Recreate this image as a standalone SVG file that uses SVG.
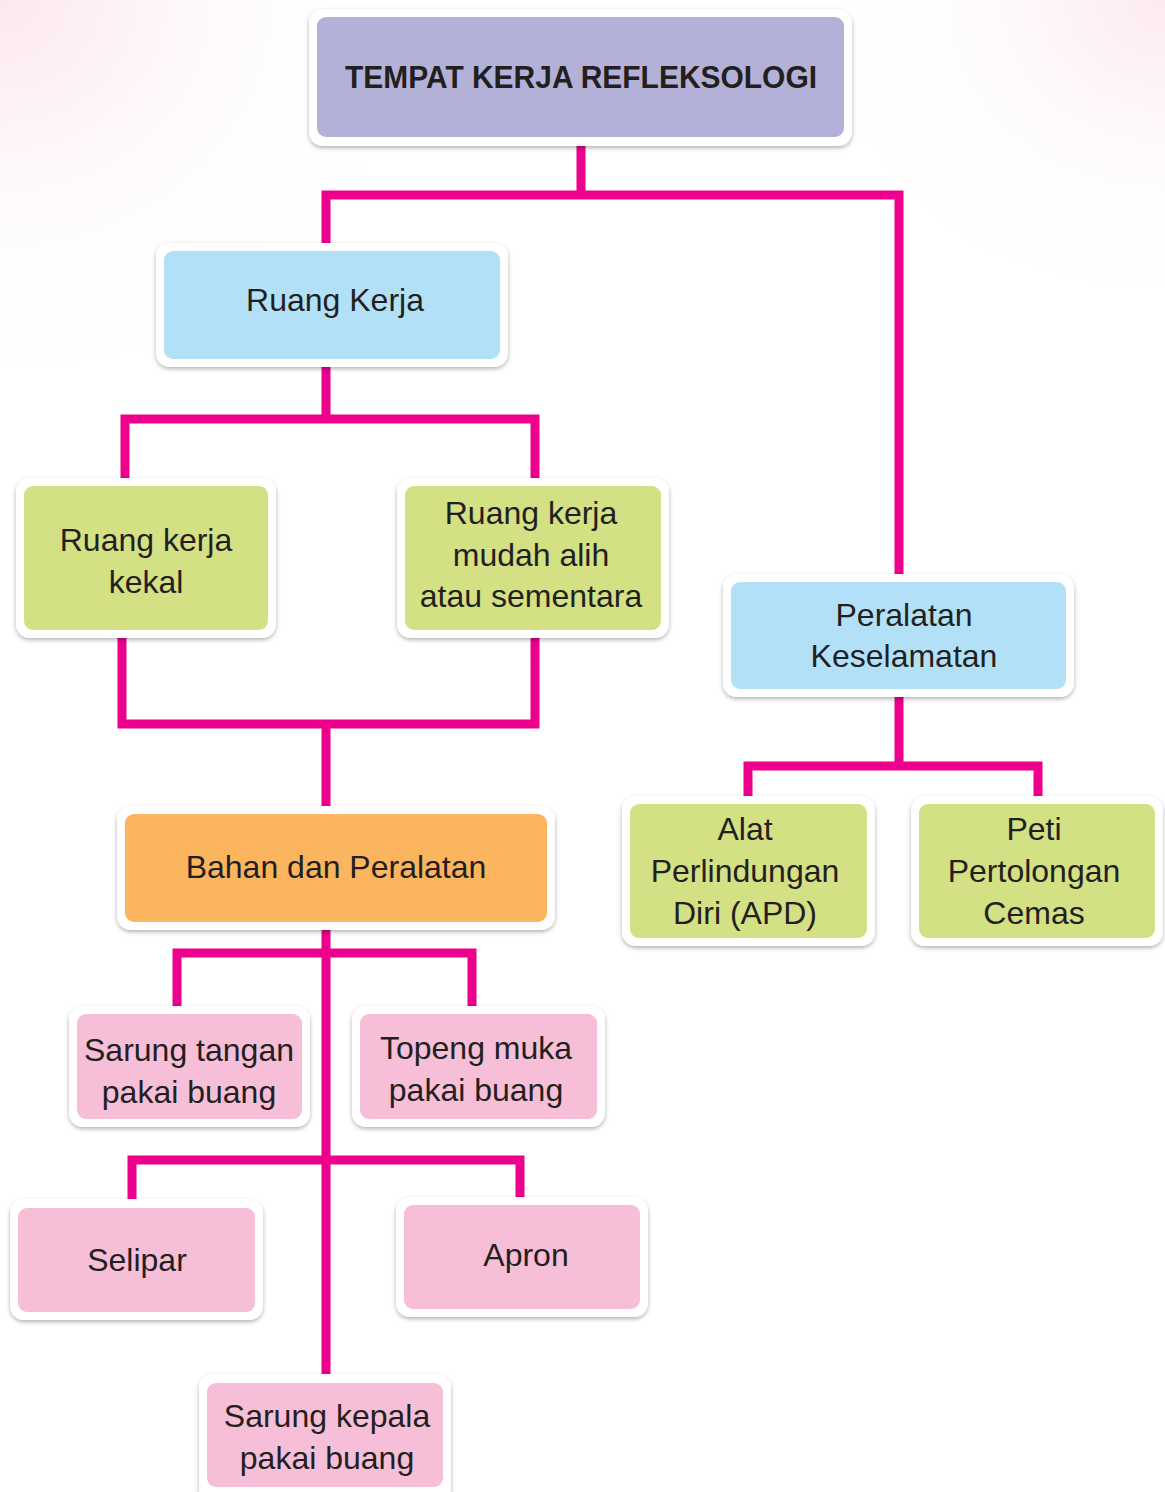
<svg xmlns="http://www.w3.org/2000/svg" width="1165" height="1492" viewBox="0 0 1165 1492">
<defs>
<radialGradient id="bgTL" cx="0" cy="0" r="1" gradientUnits="objectBoundingBox">
<stop offset="0" stop-color="#FCE4EC" stop-opacity="0.9"/>
<stop offset="1" stop-color="#FFFFFF" stop-opacity="0"/>
</radialGradient>
<radialGradient id="bgTR" cx="1" cy="0" r="1" gradientUnits="objectBoundingBox">
<stop offset="0" stop-color="#FCE4EC" stop-opacity="0.8"/>
<stop offset="1" stop-color="#FFFFFF" stop-opacity="0"/>
</radialGradient>
<filter id="sh" x="-10%" y="-10%" width="120%" height="130%">
<feDropShadow dx="0" dy="2" stdDeviation="2" flood-color="#000" flood-opacity="0.3"/>
</filter>
</defs>
<style>
.outer{fill:#FFFFFF;filter:url(#sh)}
.purple{fill:#B3B1D8}
.blue{fill:#B2E1F7}
.green{fill:#D3E083}
.orange{fill:#FBB55E}
.pink{fill:#F6BED7}
.t{font-family:"Liberation Sans",Arial,sans-serif;font-size:32px;fill:#231F20;text-anchor:middle}
.title{font-family:"Liberation Sans",Arial,sans-serif;font-size:32px;font-weight:bold;fill:#231F20;text-anchor:middle}
.c{fill:none;stroke:#EC008C;stroke-width:9;stroke-linecap:butt;stroke-linejoin:miter}
</style>
<rect width="1165" height="1492" fill="#FFFFFF"/>
<rect x="0" y="0" width="420" height="380" fill="url(#bgTL)"/>
<rect x="820" y="0" width="345" height="300" fill="url(#bgTR)"/>

<g id="connectors">
<path class="c" d="M581 146 V195 M326 243 V195 H899 V575"/>
<path class="c" d="M326 367 V419 M125 479 V419 H535 V479"/>
<path class="c" d="M122 638 V724 H535 V638 M326 724 V806"/>
<path class="c" d="M326 930 V1374 M177 1007 V953 H472 V1007"/>
<path class="c" d="M132 1200 V1160 H520 V1197"/>
<path class="c" d="M899 697 V766 M748 797 V766 H1038 V797"/>
</g>

<g id="n-tempat">
<rect class="outer" x="309" y="9" width="543" height="137" rx="14"/>
<rect class="purple" x="317" y="17" width="527" height="120" rx="9"/>
<text class="title" x="581" y="88" textLength="472" lengthAdjust="spacingAndGlyphs">TEMPAT KERJA REFLEKSOLOGI</text>
</g>

<g id="n-ruang-kerja">
<rect class="outer" x="156" y="243" width="352" height="124" rx="14"/>
<rect class="blue" x="164" y="251" width="336" height="108" rx="9"/>
<text class="t" x="335" y="311">Ruang Kerja</text>
</g>

<g id="n-kekal">
<rect class="outer" x="16" y="478" width="260" height="160" rx="14"/>
<rect class="green" x="24" y="486" width="244" height="144" rx="9"/>
<text class="t" x="146" y="551">Ruang kerja</text>
<text class="t" x="146" y="593">kekal</text>
</g>

<g id="n-mudah-alih">
<rect class="outer" x="397" y="478" width="272" height="160" rx="14"/>
<rect class="green" x="405" y="486" width="256" height="144" rx="9"/>
<text class="t" x="531" y="524">Ruang kerja</text>
<text class="t" x="531" y="566">mudah alih</text>
<text class="t" x="531" y="607">atau sementara</text>
</g>

<g id="n-peralatan-keselamatan">
<rect class="outer" x="723" y="574" width="351" height="123" rx="14"/>
<rect class="blue" x="731" y="582" width="335" height="107" rx="9"/>
<text class="t" x="904" y="626">Peralatan</text>
<text class="t" x="904" y="667">Keselamatan</text>
</g>

<g id="n-apd">
<rect class="outer" x="622" y="796" width="253" height="150" rx="14"/>
<rect class="green" x="630" y="804" width="237" height="134" rx="9"/>
<text class="t" x="745" y="840">Alat</text>
<text class="t" x="745" y="882">Perlindungan</text>
<text class="t" x="745" y="924">Diri (APD)</text>
</g>

<g id="n-peti">
<rect class="outer" x="911" y="796" width="252" height="150" rx="14"/>
<rect class="green" x="919" y="804" width="236" height="134" rx="9"/>
<text class="t" x="1034" y="840">Peti</text>
<text class="t" x="1034" y="882">Pertolongan</text>
<text class="t" x="1034" y="924">Cemas</text>
</g>

<g id="n-bahan">
<rect class="outer" x="117" y="806" width="438" height="124" rx="14"/>
<rect class="orange" x="125" y="814" width="422" height="108" rx="9"/>
<text class="t" x="336" y="878">Bahan dan Peralatan</text>
</g>

<g id="n-sarung-tangan">
<rect class="outer" x="69" y="1006" width="241" height="121" rx="14"/>
<rect class="pink" x="77" y="1014" width="225" height="105" rx="9"/>
<text class="t" x="189" y="1061">Sarung tangan</text>
<text class="t" x="189" y="1103">pakai buang</text>
</g>

<g id="n-topeng">
<rect class="outer" x="352" y="1006" width="253" height="121" rx="14"/>
<rect class="pink" x="360" y="1014" width="237" height="105" rx="9"/>
<text class="t" x="476" y="1059">Topeng muka</text>
<text class="t" x="476" y="1101">pakai buang</text>
</g>

<g id="n-selipar">
<rect class="outer" x="10" y="1199" width="253" height="121" rx="14"/>
<rect class="pink" x="18" y="1208" width="237" height="104" rx="9"/>
<text class="t" x="137" y="1271">Selipar</text>
</g>

<g id="n-apron">
<rect class="outer" x="396" y="1197" width="252" height="120" rx="14"/>
<rect class="pink" x="404" y="1205" width="236" height="104" rx="9"/>
<text class="t" x="526" y="1266">Apron</text>
</g>

<g id="n-sarung-kepala">
<rect class="outer" x="199" y="1374" width="252" height="130" rx="14"/>
<rect class="pink" x="207" y="1383" width="236" height="104" rx="9"/>
<text class="t" x="327" y="1427">Sarung kepala</text>
<text class="t" x="327" y="1469">pakai buang</text>
</g>
</svg>
